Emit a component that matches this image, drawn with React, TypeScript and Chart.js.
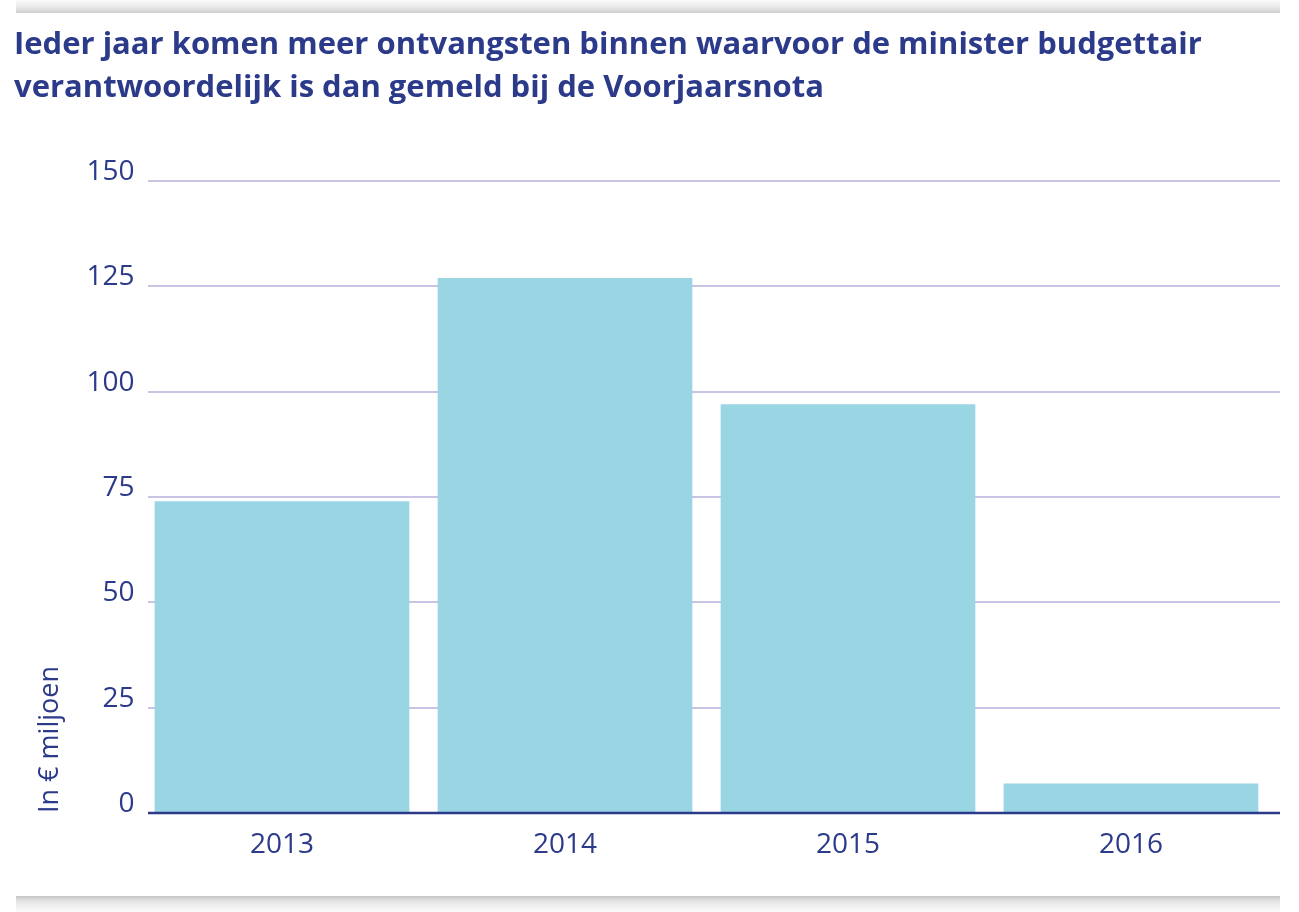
import React, { useEffect, useRef } from "react";
import { Chart, registerables } from "chart.js";

Chart.register(...registerables);

const categories = ["2013", "2014", "2015", "2016"];
const values = [74, 127, 97, 7];
const yTicks = [0, 25, 50, 75, 100, 125, 150];
const titleLines = [
  "Ieder jaar komen meer ontvangsten binnen waarvoor de minister budgettair",
  "verantwoordelijk is dan gemeld bij de Voorjaarsnota",
];
const yAxisTitle = "In € miljoen";

const NAVY = "#2c3a8a";
const BAR = "#9ad5e4";
const GRID = "#c9c3e4";
const FONT = "Open Sans";

const framePlugin = {
  id: "framePlugin",
  beforeDraw(chart: any) {
    const ctx = chart.ctx;
    ctx.save();
    let g = ctx.createLinearGradient(0, 0, 0, 13);
    g.addColorStop(0, "#fbfbfb");
    g.addColorStop(0.6, "#e6e6e6");
    g.addColorStop(1, "#cfcfcf");
    ctx.fillStyle = g;
    ctx.fillRect(16, 0, 1264, 13);
    g = ctx.createLinearGradient(0, 896, 0, 912);
    g.addColorStop(0, "#c4c4c4");
    g.addColorStop(0.3, "#e4e4e4");
    g.addColorStop(1, "#fbfbfb");
    ctx.fillStyle = g;
    ctx.fillRect(16, 896, 1264, 16);
    ctx.restore();
  },
  beforeDatasetsDraw(chart: any) {
    const ctx = chart.ctx;
    const y = chart.scales.y;
    const { left, right } = chart.chartArea;
    ctx.save();
    ctx.strokeStyle = GRID;
    ctx.lineWidth = 2;
    y.ticks.forEach((t: any) => {
      if (t.value === 0) return;
      const py = Math.round(y.getPixelForValue(t.value));
      ctx.beginPath();
      ctx.moveTo(left + 7.5, py);
      ctx.lineTo(right + 7.5, py);
      ctx.stroke();
    });
    ctx.restore();
  },
  afterDatasetsDraw(chart: any) {
    const ctx = chart.ctx;
    const y = chart.scales.y;
    const { left, right } = chart.chartArea;
    const py = y.getPixelForValue(0);
    ctx.save();
    ctx.strokeStyle = NAVY;
    ctx.lineWidth = 2.5;
    ctx.beginPath();
    ctx.moveTo(left + 7.5, py);
    ctx.lineTo(right + 7.5, py);
    ctx.stroke();
    ctx.restore();
  },
};

export default function App() {
  const ref = useRef<HTMLCanvasElement>(null);

  useEffect(() => {
    document.body.style.margin = "0";
    let chart: Chart | null = null;
    let cancelled = false;
    const build = () => {
      if (cancelled || !ref.current) return;
      chart = new Chart(ref.current, {
        type: "bar",
        data: {
          labels: categories,
          datasets: [
            {
              data: values,
              backgroundColor: BAR,
              borderWidth: 0,
              barPercentage: 0.9,
              categoryPercentage: 1,
            },
          ],
        },
        plugins: [framePlugin],
        options: {
          animation: false,
          responsive: false,
          maintainAspectRatio: false,
          layout: { padding: { left: 14, top: 0, right: 26.5, bottom: 49 } },
          plugins: {
            legend: { display: false },
            tooltip: { enabled: false },
            title: {
              display: true,
              text: titleLines,
              align: "start",
              color: NAVY,
              font: { family: FONT, size: 31, weight: "bold", lineHeight: 43 / 31 },
              padding: { top: 24, bottom: 71 },
            },
          },
          scales: {
            x: {
              type: "category",
              offset: true,
              grid: { display: false, drawTicks: false },
              border: { display: false },
              ticks: {
                color: NAVY,
                font: { family: FONT, size: 28, weight: "500" },
                padding: 15,
                maxRotation: 0,
              },
              afterFit: (s: any) => {
                s.height = 50;
              },
            },
            y: {
              min: 0,
              max: 150,
              afterBuildTicks: (s: any) => {
                s.ticks = yTicks.map((v) => ({ value: v }));
              },
              grid: { display: false, drawTicks: false },
              border: { display: false },
              ticks: {
                color: NAVY,
                font: { family: FONT, size: 28, weight: "500" },
                padding: 6,
                labelOffset: -9,
              },
              title: {
                display: true,
                text: yAxisTitle,
                align: "start",
                color: NAVY,
                font: { family: FONT, size: 27, weight: "500" },
                padding: { top: 20, bottom: 0 },
              },
              afterFit: (s: any) => {
                s.width = 126.5;
              },
            },
          },
        },
      } as any);
    };
    const fonts: any = (document as any).fonts;
    if (fonts && fonts.load) {
      Promise.all([
        fonts.load(`bold 31px "${FONT}"`),
        fonts.load(`500 28px "${FONT}"`),
      ])
        .catch(() => {})
        .then(build);
    } else {
      build();
    }
    return () => {
      cancelled = true;
      if (chart) chart.destroy();
    };
  }, []);

  return (
    <div style={{ width: 1299, height: 912, background: "#fff" }}>
      <canvas ref={ref} width={1299} height={912} style={{ display: "block" }} />
    </div>
  );
}
